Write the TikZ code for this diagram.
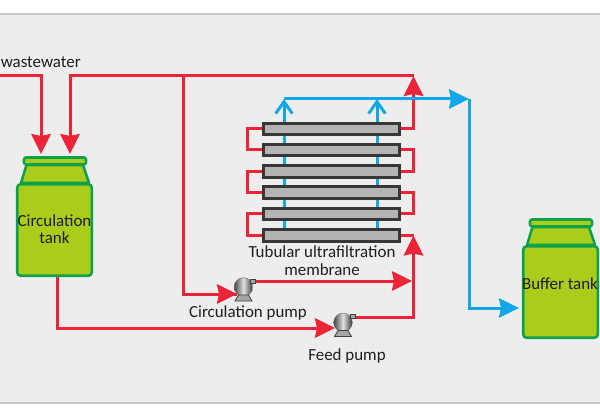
\documentclass[tikz,border=0pt]{standalone}
\usepackage{fontspec}
\setmainfont{Carlito}
\usetikzlibrary{arrows.meta}
\definecolor{panelgray}{RGB}{237,237,237}
\definecolor{edgegray}{RGB}{200,200,200}
\definecolor{pipered}{RGB}{237,36,56}
\definecolor{pipeblue}{RGB}{18,168,232}
\definecolor{tankgreen}{RGB}{12,162,76}
\definecolor{tankfill}{RGB}{170,205,28}
\definecolor{tubegray}{RGB}{180,180,180}
\definecolor{tubeedge}{RGB}{58,54,54}
\definecolor{labeltext}{RGB}{30,30,30}
\tikzset{
	redline/.style={color=pipered,line width=2.25pt,line join=miter},
	redarrow/.style={redline,-{Stealth[length=15pt,width=14.5pt,inset=1.5pt]}},
	blueline/.style={color=pipeblue,line width=2.25pt},
	bluearrow/.style={blueline,-{Stealth[length=15pt,width=14.5pt,inset=1.5pt]}},
	bluebarb/.style={blueline,-{Straight Barb[length=9pt,width=12.5pt,line width=2.25pt]}},
	tubebox/.style={draw=tubeedge,fill=tubegray,line width=2.2pt,minimum width=102.3pt,minimum height=8.4pt,inner sep=0pt},
	tankbody/.style={draw=tankgreen,fill=tankfill,line width=1.9pt,rounded corners=2.5pt,minimum width=55.9pt,minimum height=68.6pt,inner sep=0pt},
	tanktop/.style={draw=tankgreen,fill=tankfill,line width=1.9pt,line join=round},
	pumpbody/.style={circle,draw=black!60,line width=0.3pt,minimum size=14pt,inner sep=0pt,left color=black!72,right color=black!78,middle color=black!12},
	pumpfoot/.style={draw=black!75,fill=black!35,line width=0.6pt},
	tag/.style={font=\fontsize{12.7pt}{13.2pt}\selectfont,color=labeltext,inner sep=0pt,align=center},
}
%neck and cap above a tank
\newcommand{\tankhead}[1]{%
	\begin{scope}[shift={(#1.north)}]
		\draw [tanktop] (-33.5,0) -- (-28,-18) -- (28.5,-18) -- (34.5,0) -- cycle ;
		\draw [tanktop,rounded corners=1.5pt] (-30.5,-25.5) rectangle (31.5,-18.5) ;
	\end{scope}}
%foot and outlet stub of a pump
\newcommand{\pumpfoot}[1]{%
	\begin{scope}[shift={(#1.center)}]
		\draw [pumpfoot] (-5,8) -- (5,8) -- (8.5,14) -- (-8.5,14) -- cycle ;
		\draw [pumpfoot] (7,-8) rectangle (12,-4) ;
	\end{scope}}

\begin{document}
\begin{tikzpicture}[x=0.75pt,y=0.75pt,yscale=-1,xscale=1]
	\useasboundingbox (0,0) rectangle (600,417);

	%Panel
	\fill [panelgray] (0,14) rectangle (600,403) ;
	\draw [edgegray,line width=0.9pt] (0,14) -- (600,14) ;
	\draw [edgegray,line width=0.9pt] (0,403) -- (600,403) ;

	%Points on the pipes
	\coordinate (inleft) at (0,76) ;
	\coordinate (inbend) at (41,76) ;
	\coordinate (intip) at (41,154) ;
	\coordinate (backbend) at (70,76) ;
	\coordinate (backtip) at (70,154) ;
	\coordinate (backtee) at (183,76) ;
	\coordinate (backend) at (413.5,76) ;
	\coordinate (circbend) at (183,294) ;
	\coordinate (circtip) at (237,294) ;
	\coordinate (circout) at (255,281) ;
	\coordinate (circend) at (412,281) ;
	\coordinate (feedstart) at (57,277) ;
	\coordinate (feedbend) at (57,328) ;
	\coordinate (feedtip) at (335,328) ;
	\coordinate (feedout) at (353,317) ;
	\coordinate (feedcorner) at (413.5,317) ;
	\coordinate (feedtop) at (413.5,235.5) ;
	\coordinate (lefttube) at (247,0) ;
	\coordinate (righttube) at (413.5,0) ;
	\coordinate (permleft) at (284,99) ;
	\coordinate (permright) at (377,99) ;
	\coordinate (permbend) at (469,99) ;
	\coordinate (permlow) at (469,308) ;
	\coordinate (bufftip) at (519,308) ;

	%Tubes and tanks
	\draw [bluebarb] (284,242) -- (permleft) ;
	\draw [bluebarb] (377,242) -- (permright) ;
	\node [tubebox] (tubea) at (331.5,129) {} ;
	\node [tubebox] (tubeb) at (331.5,150) {} ;
	\node [tubebox] (tubec) at (331.5,171.5) {} ;
	\node [tubebox] (tubed) at (331.5,192.5) {} ;
	\node [tubebox] (tubee) at (331.5,214) {} ;
	\node [tubebox] (tubef) at (331.5,235.5) {} ;
	\node [tankbody] (ctank) at (54.5,230) {} ;
	\tankhead{ctank}
	\node [tankbody] (btank) at (560.5,292) {} ;
	\tankhead{btank}

	%Red pipes
	\draw [redarrow] (inleft) -- (inbend) -- (intip) ;
	\draw [redarrow] (backend) -- (backbend) -- (backtip) ;
	\draw [redline] (backtee) -- (circbend) -- (circtip) ;
	\draw [redarrow] (circbend) -- (circtip) ;
	\draw [redarrow] (circout) -- (circend) ;
	\draw [redarrow] (feedstart) -- (feedbend) -- (feedtip) ;
	\draw [redarrow] (feedout) -- (feedcorner) -- (feedtop) ;
	\draw [redarrow] (tubea.east) -- (tubea.east -| righttube) -- (backend) ;
	\draw [redline] (tubea.west) -- (tubea.west -| lefttube) -- (tubeb.west -| lefttube) -- (tubeb.west) ;
	\draw [redline] (tubeb.east) -- (tubeb.east -| righttube) -- (tubec.east -| righttube) -- (tubec.east) ;
	\draw [redline] (tubec.west) -- (tubec.west -| lefttube) -- (tubed.west -| lefttube) -- (tubed.west) ;
	\draw [redline] (tubed.east) -- (tubed.east -| righttube) -- (tubee.east -| righttube) -- (tubee.east) ;
	\draw [redline] (tubee.west) -- (tubee.west -| lefttube) -- (tubef.west -| lefttube) -- (tubef.west) ;
	\draw [redline] (tubef.east) -- (feedtop) ;

	%Blue pipes
	\draw [bluearrow] (permleft) -- (permbend) ;
	\draw [bluearrow] (permbend) -- (permlow) -- (bufftip) ;

	%Pumps
	\node [pumpbody] (cpump) at (243.5,287) {} ;
	\pumpfoot{cpump}
	\node [pumpbody] (fpump) at (343,322.5) {} ;
	\pumpfoot{fpump}

	% Text Node
	\node [tag,anchor=west] (rawtag) at (0.5,62) {wastewater} ;
	% Text Node
	\node [tag] (ctag) at (54.5,229) {Circulation\\tank} ;
	% Text Node
	\node [tag] (btag) at (560,284) {Buffer tank} ;
	% Text Node
	\node [tag] (mtag) at (322,260.5) {Tubular ultrafiltration\\membrane} ;
	% Text Node
	\node [tag] (cptag) at (248,313) {Circulation pump} ;
	% Text Node
	\node [tag] (fptag) at (347,355.5) {Feed pump} ;
\end{tikzpicture}
\end{document}
